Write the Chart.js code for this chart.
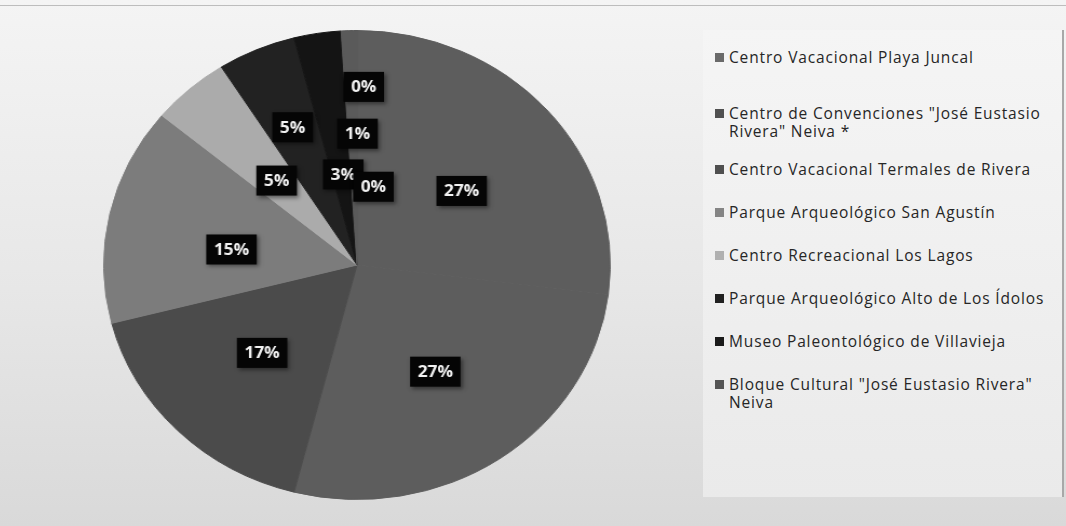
<!DOCTYPE html>
<html>
<head>
<meta charset="utf-8">
<script src="https://cdn.jsdelivr.net/npm/chart.js@4/dist/chart.umd.min.js"></script>
<style>
  html,body{margin:0;padding:0;}
  body{width:1066px;height:526px;overflow:hidden;position:relative;
       background:linear-gradient(180deg,#f4f4f4 0%,#e7e7e7 55%,#d9d9d9 100%);
       font-family:"Open Sans","Lato",sans-serif;}
  #topline{position:absolute;left:0;top:5px;width:1066px;height:1px;background:#bdbdbd;}
  #chartBox{position:absolute;left:122px;top:30px;width:470px;height:470px;
            transform:scaleX(1.08);transform-origin:50% 50%;}
  #legend{position:absolute;left:703px;top:30px;width:359px;height:467px;
          background:linear-gradient(180deg,#f5f5f5,#eaeaea);border-right:2px solid #a8a8a8;}
  .item{position:absolute;left:12px;width:325px;font-size:15.5px;letter-spacing:0.85px;line-height:18px;color:#262626;
        padding-left:14px;}
  .item .sw{position:absolute;left:0;top:5px;width:9px;height:9px;}
</style>
</head>
<body>
<div id="topline"></div>
<div id="chartBox"><canvas id="c"></canvas></div>
<div id="legend"></div>
<script>
// ---- data ----
const categories = [
  'Centro Vacacional Playa Juncal',
  'Centro de Convenciones "José Eustasio Rivera" Neiva *',
  'Centro Vacacional Termales de Rivera',
  'Parque Arqueológico San Agustín',
  'Centro Recreacional Los Lagos',
  'Parque Arqueológico Alto de Los Ídolos',
  'Museo Paleontológico de Villavieja',
  'Bloque Cultural "José Eustasio Rivera" Neiva'
];
const extraCategories = ['', ''];           // two unnamed 0% entries (not in legend)
const percentValues = [27, 27, 17, 15, 5, 5, 3, 1, 0, 0];

// ---- styles ----
const sliceColors = ['#5d5d5d','#5d5d5d','#4b4b4b','#7c7c7c','#ababab','#222222','#141414','#5a5a5a','#5a5a5a','#5a5a5a'];
const legendColors = ['#6a6a6a','#505050','#4f4f4f','#858585','#b0b0b0','#202020','#1a1a1a','#555555'];
const legendTops = [18, 74, 130, 173, 216, 259, 302, 345];
const labelRadius = [0.52,0.55,0.53,0.50,0.48,0.64,0.39,0.56,0.76,0.34];
const labelAngleNudge = [4,0,0,-5,0,0,1,2,2,11];

// legend
const lg = document.getElementById('legend');
categories.forEach((name,i)=>{
  const d = document.createElement('div');
  d.className='item';
  d.style.top = legendTops[i]+'px';
  const sw = document.createElement('span');
  sw.className='sw'; sw.style.background = legendColors[i];
  d.appendChild(sw);
  d.appendChild(document.createTextNode(name));
  lg.appendChild(d);
});

const labelPlugin = {
  id:'boxLabels',
  afterDatasetsDraw(chart){
    const ctx = chart.ctx;
    const meta = chart.getDatasetMeta(0);
    ctx.save();
    ctx.font = 'bold 16px "Open Sans", Lato, sans-serif';
    ctx.textAlign='center'; ctx.textBaseline='middle';
    meta.data.forEach((arc,i)=>{
      const p = arc.getProps(['x','y','startAngle','endAngle','outerRadius'],true);
      const mid = (p.startAngle+p.endAngle)/2 + labelAngleNudge[i]*Math.PI/180;
      const r = p.outerRadius*labelRadius[i];
      const x = p.x + Math.cos(mid)*r, y = p.y + Math.sin(mid)*r;
      const txt = percentValues[i]+'%';
      const w = ctx.measureText(txt).width + 14, h = 30;
      ctx.shadowColor='rgba(0,0,0,0.45)'; ctx.shadowBlur=4; ctx.shadowOffsetX=2; ctx.shadowOffsetY=2;
      ctx.fillStyle='#050505';
      ctx.fillRect(x-w/2, y-h/2, w, h);
      ctx.shadowColor='transparent';
      ctx.fillStyle='#f2f2f2';
      ctx.fillText(txt, x, y+1);
    });
    ctx.restore();
  }
};

new Chart(document.getElementById('c'),{
  type:'pie',
  data:{
    labels: categories.concat(extraCategories),
    datasets:[{data:percentValues, backgroundColor:sliceColors, borderColor:sliceColors, borderWidth:1}]
  },
  options:{
    responsive:true, maintainAspectRatio:false, animation:false,
    layout:{padding:0},
    plugins:{legend:{display:false}, tooltip:{enabled:false}}
  },
  plugins:[labelPlugin]
});
</script>
</body>
</html>
